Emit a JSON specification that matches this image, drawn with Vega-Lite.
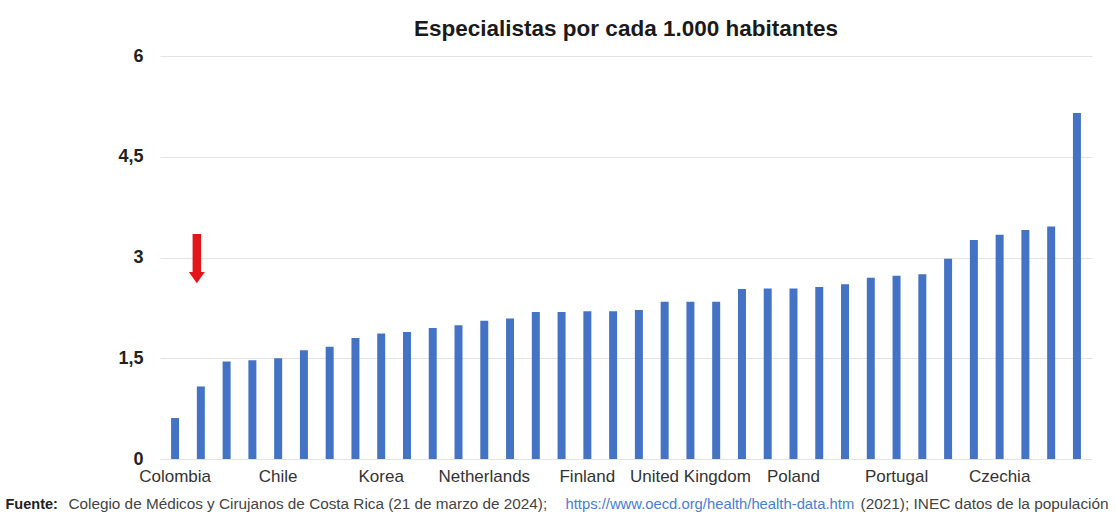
{
  "$schema": "https://vega.github.io/schema/vega-lite/v6.json",
  "width": 932,
  "height": 403,
  "autosize": {"type": "none"},
  "padding": {"left": 160, "top": 56, "right": 24, "bottom": 53},
  "background": "white",
  "config": {"font": "Liberation Sans", "view": {"stroke": null}},
  "title": {"text": "Especialistas por cada 1.000 habitantes", "fontSize": 22.5, "font": "Liberation Sans", "fontWeight": "bold", "color": "#1a1a1a", "anchor": "middle", "offset": 7},
  "datasets": {
    "paises": [
      {"pais": "Colombia", "valor": 0.61},
      {"pais": "Costa Rica", "valor": 1.08},
      {"pais": "Mexico", "valor": 1.45},
      {"pais": "Türkiye", "valor": 1.47},
      {"pais": "Chile", "valor": 1.50},
      {"pais": "Japan", "valor": 1.62},
      {"pais": "Canada", "valor": 1.67},
      {"pais": "United States", "valor": 1.80},
      {"pais": "Korea", "valor": 1.87},
      {"pais": "New Zealand", "valor": 1.89},
      {"pais": "Slovak Republic", "valor": 1.95},
      {"pais": "Hungary", "valor": 1.99},
      {"pais": "Netherlands", "valor": 2.06},
      {"pais": "France", "valor": 2.09},
      {"pais": "Ireland", "valor": 2.19},
      {"pais": "Belgium", "valor": 2.19},
      {"pais": "Finland", "valor": 2.20},
      {"pais": "Israel", "valor": 2.20},
      {"pais": "Latvia", "valor": 2.22},
      {"pais": "Slovenia", "valor": 2.34},
      {"pais": "United Kingdom", "valor": 2.34},
      {"pais": "Luxembourg", "valor": 2.34},
      {"pais": "Estonia", "valor": 2.53},
      {"pais": "Denmark", "valor": 2.54},
      {"pais": "Poland", "valor": 2.54},
      {"pais": "Sweden", "valor": 2.56},
      {"pais": "Spain", "valor": 2.60},
      {"pais": "Italy", "valor": 2.70},
      {"pais": "Portugal", "valor": 2.73},
      {"pais": "Iceland", "valor": 2.75},
      {"pais": "Lithuania", "valor": 2.98},
      {"pais": "Switzerland", "valor": 3.26},
      {"pais": "Czechia", "valor": 3.34},
      {"pais": "Norway", "valor": 3.41},
      {"pais": "Germany", "valor": 3.46},
      {"pais": "Austria", "valor": 5.15}
    ],
    "flecha": [
      {"pais": "Costa Rica", "inicio": 3.35, "fin": 2.76, "punta": 2.70}
    ]
  },
  "layer": [
    {
      "data": {"name": "paises"},
      "mark": {"type": "bar", "color": "#4472C4"},
      "encoding": {
        "x": {
          "field": "pais", "type": "nominal", "sort": null,
          "scale": {"paddingInner": 0.69, "paddingOuter": 0.43},
          "axis": {
            "orient": "bottom",
            "values": ["Colombia", "Chile", "Korea", "Netherlands", "Finland", "United Kingdom", "Poland", "Portugal", "Czechia"],
            "labelAngle": 0, "labelFontSize": 17, "labelColor": "#333333", "labelPadding": 9,
            "labelOverlap": false, "labelFlush": false,
            "ticks": false, "domain": false, "grid": false,
            "title": "Colegio de Médicos y Cirujanos de Costa Rica (21 de marzo de 2024);",
            "titleFontSize": 15.3, "titleFontWeight": "normal", "titleColor": "#444444",
            "titleAnchor": "start", "titleAlign": "left", "titleBaseline": "alphabetic",
            "titleX": -92, "titleY": 49
          }
        },
        "y": {
          "field": "valor", "type": "quantitative",
          "scale": {"domain": [0, 6]},
          "axis": {
            "values": [0, 1.5, 3, 4.5, 6],
            "labelExpr": "replace(toString(datum.value), '.', ',')",
            "labelFontSize": 18, "labelFontWeight": "bold", "labelColor": "#222222", "labelPadding": 17,
            "ticks": false, "domain": false,
            "grid": true, "gridColor": "#e3e3e3", "gridWidth": 1,
            "title": "Fuente:", "titleFontSize": 14.5, "titleFontWeight": "bold", "titleColor": "#222222",
            "titleAngle": 0, "titleAnchor": "start", "titleAlign": "left", "titleBaseline": "alphabetic",
            "titleX": -155, "titleY": 452
          }
        }
      }
    },
    {
      "data": {"name": "flecha"},
      "mark": {"type": "rule", "color": "#E3161B", "strokeWidth": 8.5, "strokeCap": "butt", "xOffset": -4},
      "encoding": {
        "x": {
          "field": "pais", "type": "nominal", "sort": null,
          "axis": {
            "orient": "bottom", "labels": false, "ticks": false, "domain": false, "grid": false,
            "title": "https://www.oecd.org/health/health-data.htm",
            "titleFontSize": 14.8, "titleFontWeight": "normal", "titleColor": "#4a7dd0",
            "titleAnchor": "start", "titleAlign": "left", "titleBaseline": "alphabetic",
            "titleX": 405, "titleY": 49
          }
        },
        "y": {"field": "inicio", "type": "quantitative", "axis": null},
        "y2": {"field": "fin"}
      }
    },
    {
      "data": {"name": "flecha"},
      "mark": {"type": "point", "shape": "M-1,-0.7L1,-0.7L0,0.7Z", "filled": true, "color": "#E3161B", "size": 256, "opacity": 1, "xOffset": -4},
      "encoding": {
        "x": {
          "field": "pais", "type": "nominal", "sort": null,
          "axis": {
            "orient": "bottom", "labels": false, "ticks": false, "domain": false, "grid": false,
            "title": "(2021); INEC datos de la populación",
            "titleFontSize": 15.4, "titleFontWeight": "normal", "titleColor": "#444444",
            "titleAnchor": "start", "titleAlign": "left", "titleBaseline": "alphabetic",
            "titleX": 700, "titleY": 49
          }
        },
        "y": {"field": "punta", "type": "quantitative", "axis": null}
      }
    }
  ],
  "resolve": {"axis": {"x": "independent", "y": "independent"}}
}
